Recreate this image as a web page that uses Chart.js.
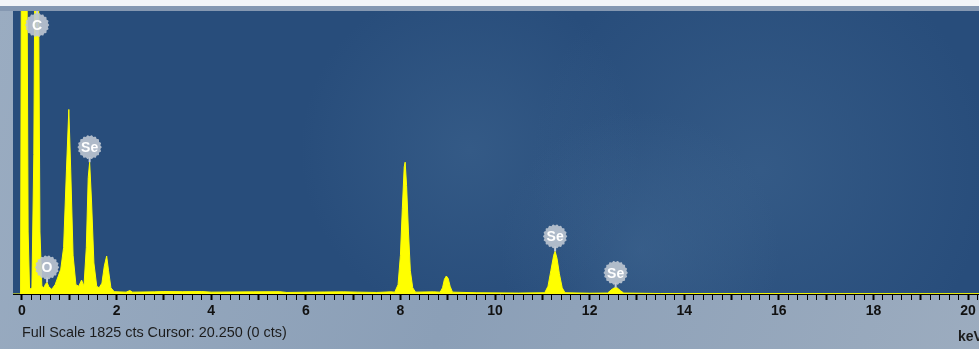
<!DOCTYPE html>
<html>
<head>
<meta charset="utf-8">
<script src="https://cdn.jsdelivr.net/npm/chart.js@4.4.1/dist/chart.umd.min.js"></script>
<style>
  html, body { margin: 0; padding: 0; width: 979px; height: 349px; overflow: hidden; background: #93a6bd; }
  #wrap { position: relative; width: 990px; height: 349px; }
</style>
</head>
<body>
<div id="wrap"><canvas id="eds" width="990" height="349"></canvas></div>
<script>
// spectrum points (keV / counts)
const energies = [-0.19, -0.03, -0.01, 0.10, 0.13, 0.16, 0.21, 0.25, 0.28, 0.34, 0.38, 0.42, 0.46, 0.50, 0.53, 0.57,
  0.63, 0.70, 0.76, 0.82, 0.88, 0.94, 0.99, 1.03, 1.08, 1.14, 1.20, 1.26, 1.31, 1.36, 1.40, 1.43, 1.47, 1.52,
  1.58, 1.63, 1.69, 1.74, 1.79, 1.83, 1.88, 1.95, 2.20, 2.28, 2.34, 2.8, 3.0, 3.4, 3.8, 4.0, 4.9, 5.45, 5.6,
  6.4, 6.8, 7.1, 7.5, 7.80, 7.88, 7.95, 8.00, 8.04, 8.08, 8.10, 8.13, 8.17, 8.21, 8.26, 8.32, 8.70, 8.84,
  8.89, 8.93, 8.97, 9.01, 9.05, 9.10, 9.6, 10.5, 11.05, 11.12, 11.18, 11.24, 11.27, 11.31, 11.36, 11.42,
  11.48, 12.0, 12.38, 12.45, 12.52, 12.58, 12.65, 12.72, 13.5, 20.42];
const counts = [0, 0, 2500, 2500, 400, 30, 40, 900, 2500, 2500, 400, 50, 40, 65, 75, 45,
  30, 60, 110, 160, 300, 800, 1190, 800, 250, 60, 50, 90, 50, 300, 750, 850, 600, 200,
  50, 40, 70, 180, 245, 150, 40, 15, 12, 22, 12, 14, 16, 15, 16, 12, 14, 15, 10,
  13, 14, 12, 10, 14, 12, 60, 250, 550, 820, 850, 700, 400, 150, 40, 12, 14, 12,
  40, 95, 116, 100, 50, 12, 8, 6, 8, 50, 150, 250, 275, 230, 130, 40,
  8, 5, 6, 25, 40, 40, 22, 6, 3, 2];

// element markers
const markerNames = ['C', 'O', 'Se', 'Se', 'Se'];
const markerKeV = [0.32, 0.53, 1.43, 11.27, 12.55];
const markerCts = [1825, 75, 850, 275, 40];

const xTickLabels = [0, 2, 4, 6, 8, 10, 12, 14, 16, 18, 20];
const fullScale = 1825;
const statusText = 'Full Scale 1825 cts Cursor: 20.250 (0 cts)';

const points = energies.map((e, i) => ({ x: e, y: counts[i] }));

const backdrop = {
  id: 'backdrop',
  beforeDraw(chart) {
    const { ctx, chartArea: a, width, height } = chart;
    ctx.save();
    // outer frame
    let g = ctx.createLinearGradient(0, 0, width, height);
    g.addColorStop(0, '#9aacc1');
    g.addColorStop(0.5, '#8b9fb7');
    g.addColorStop(1, '#9cacbf');
    ctx.fillStyle = g;
    ctx.fillRect(0, 0, width, height);
    ctx.fillStyle = '#f3f5f7';
    ctx.fillRect(0, 0, width, 6);
    ctx.fillStyle = '#8598b1';
    ctx.fillRect(0, 6, width, a.top - 6);
    // plot area
    ctx.fillStyle = '#284d7b';
    ctx.fillRect(a.left, a.top, a.right - a.left, a.bottom - a.top);
    const glows = [[470, 150, 170], [760, 170, 230], [640, 250, 140]];
    glows.forEach(([x, y, r]) => {
      const rg = ctx.createRadialGradient(x, y, 0, x, y, r);
      rg.addColorStop(0, 'rgba(80,120,160,0.3)');
      rg.addColorStop(1, 'rgba(80,120,160,0)');
      ctx.fillStyle = rg;
      ctx.fillRect(a.left, a.top, a.right - a.left, a.bottom - a.top);
    });
    ctx.restore();
  }
};

function badge(ctx, cx, cy, text) {
  const r = 11.5;
  ctx.beginPath();
  for (let i = 0; i <= 120; i++) {
    const t = i / 120 * Math.PI * 2;
    const rr = r + 0.6 * Math.cos(t * 18);
    const px = cx + rr * Math.cos(t), py = cy + rr * Math.sin(t);
    i === 0 ? ctx.moveTo(px, py) : ctx.lineTo(px, py);
  }
  ctx.closePath();
  ctx.fillStyle = 'rgba(190,198,210,0.9)';
  ctx.fill();
  ctx.fillStyle = '#ffffff';
  ctx.font = 'bold 14px "Liberation Sans", Arial, sans-serif';
  ctx.textAlign = 'center';
  ctx.textBaseline = 'middle';
  ctx.fillText(text, cx, cy + 1);
}

const markers = {
  id: 'markers',
  afterDatasetsDraw(chart) {
    const { ctx, chartArea: a, scales } = chart;
    ctx.save();
    markerNames.forEach((name, i) => {
      const x = scales.x.getPixelForValue(markerKeV[i]);
      const peakY = Math.max(scales.y.getPixelForValue(markerCts[i]), a.top);
      const cy = Math.max(peakY - 15, a.top + 14);
      ctx.strokeStyle = '#c4cbd6';
      ctx.lineWidth = 2;
      ctx.beginPath();
      ctx.moveTo(x, cy + 10);
      ctx.lineTo(x, peakY);
      ctx.stroke();
      badge(ctx, x, cy, name);
    });
    ctx.restore();
  },
  afterDraw(chart) {
    const { ctx } = chart;
    ctx.save();
    ctx.fillStyle = '#1c1c1c';
    ctx.textBaseline = 'alphabetic';
    ctx.font = '14.4px "Liberation Sans", Arial, sans-serif';
    ctx.fillText(statusText, 22, 337);
    ctx.font = 'bold 14px "Liberation Sans", Arial, sans-serif';
    ctx.fillText('keV', 958, 341);
    ctx.restore();
  }
};

new Chart(document.getElementById('eds'), {
  type: 'line',
  data: {
    datasets: [{
      data: points,
      borderColor: '#ffff00',
      backgroundColor: '#ffff00',
      borderWidth: 1,
      fill: 'origin',
      pointRadius: 0,
      tension: 0
    }]
  },
  options: {
    responsive: false,
    animation: false,
    layout: { padding: { left: 13, right: 0, top: 11, bottom: 0 } },
    plugins: { legend: { display: false }, tooltip: { enabled: false } },
    scales: {
      x: {
        type: 'linear',
        min: -0.19,
        max: 20.42,
        afterFit(axis) { axis.height = 55; },
        border: { color: '#000', width: 1 },
        grid: {
          drawOnChartArea: false,
          tickLength: 6,
          tickColor: '#000',
          tickWidth: c => (Math.abs(c.tick.value - Math.round(c.tick.value)) < 0.01 ? 2 : 1)
        },
        ticks: {
          stepSize: 0.2,
          includeBounds: false,
          autoSkip: false,
          maxRotation: 0,
          padding: 3,
          color: '#111',
          font: { family: '"Liberation Sans", Arial, sans-serif', size: 14, weight: 'bold' },
          callback: v => {
            const n = Math.round(v);
            return Math.abs(v - n) < 0.01 && xTickLabels.includes(n) ? String(n) : '';
          }
        }
      },
      y: {
        display: false,
        min: 0,
        max: fullScale
      }
    }
  },
  plugins: [backdrop, markers]
});
</script>
</body>
</html>
